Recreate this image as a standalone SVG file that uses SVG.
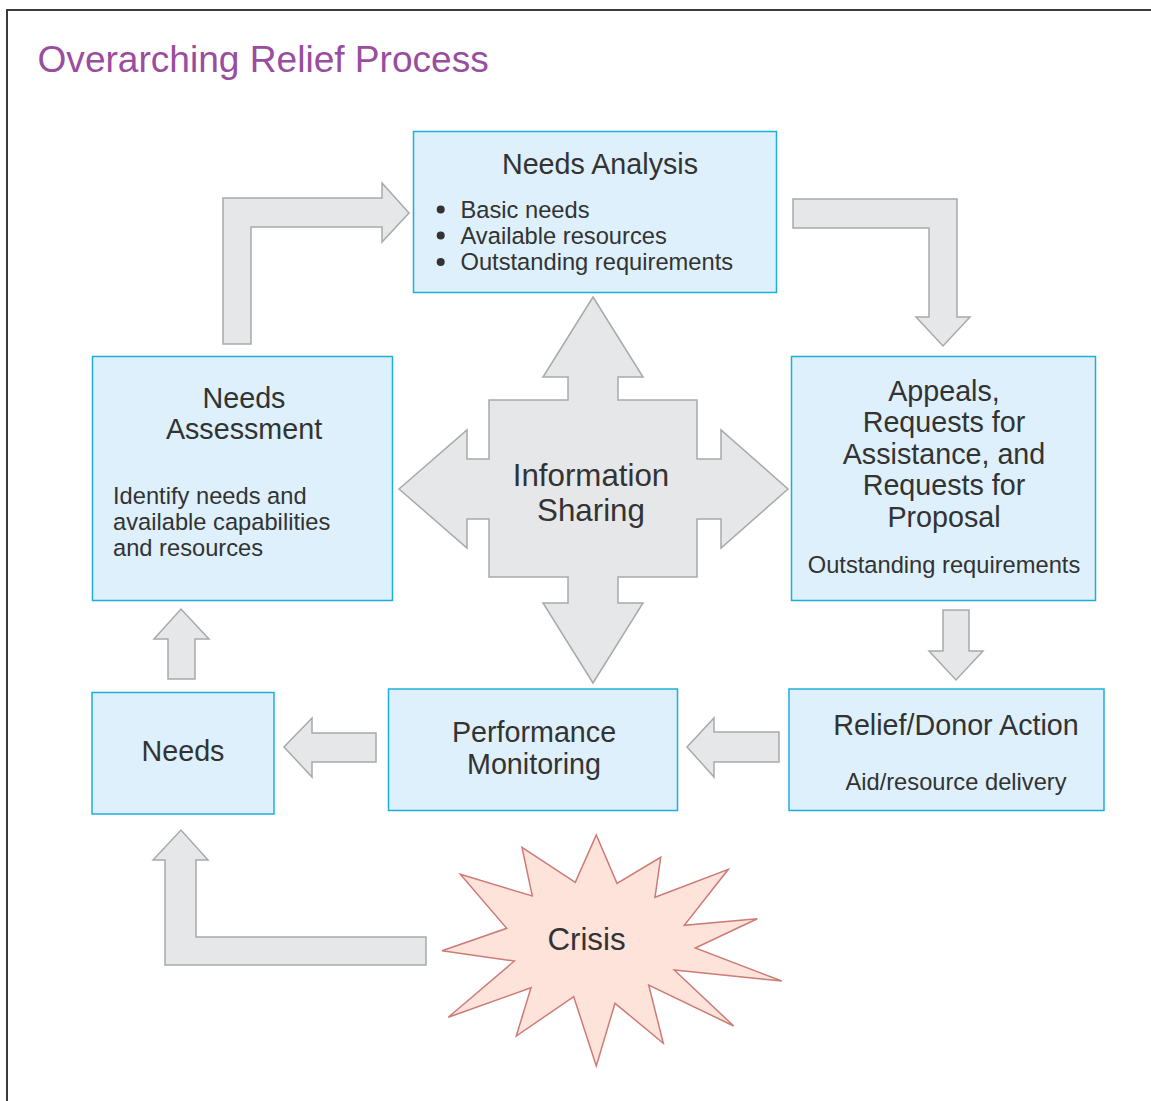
<svg xmlns="http://www.w3.org/2000/svg" width="1151" height="1101" viewBox="0 0 1151 1101">
<style>
  .box { fill: #ddf0fb; stroke: #1eaede; stroke-width: 1.5; }
  .arr { fill: #e6e7e9; stroke: #a7a9ac; stroke-width: 1.5; stroke-linejoin: miter; }
  .t { font-family: "Liberation Sans", Arial, sans-serif; fill: #333333; }
  .h { font-size: 28.7px; text-anchor: middle; }
  .b { font-size: 23.7px; }
  .bc { font-size: 23.7px; text-anchor: middle; }
  .big { font-size: 31.3px; text-anchor: middle; }
</style>
<rect x="0" y="0" width="1151" height="1101" fill="#ffffff"/>
<path d="M7,1101 L7,10 L1151,10" fill="none" stroke="#3a3a3a" stroke-width="2"/>
<text x="37.5" y="72" font-family="&quot;Liberation Sans&quot;, Arial, sans-serif" font-size="37.1px" fill="#9a4d9e">Overarching Relief Process</text>

<g id="connectors">
  <path class="arr" d="M223,344 L223,198 L382,198 L382,183 L409,213 L382,242 L382,227 L251,227 L251,344 Z"/>
  <path class="arr" d="M793,199 L957,199 L957,317 L970,317 L943,346 L916,317 L929,317 L929,228 L793,228 Z"/>
  <path class="arr" d="M943,610 L969,610 L969,651 L983,651 L956,680 L929,651 L943,651 Z"/>
  <path class="arr" d="M779,732 L714,732 L714,718 L687,747 L714,777 L714,762 L779,762 Z"/>
  <path class="arr" d="M376,733 L312,733 L312,718 L284,747 L312,777 L312,762 L376,762 Z"/>
  <path class="arr" d="M168,679 L168,639 L154,639 L181,609 L209,639 L195,639 L195,679 Z"/>
  <path class="arr" d="M165,965 L165,860 L153,860 L181,830 L208,860 L196,860 L196,937 L426,937 L426,965 Z"/>
</g>

<g id="needs-analysis">
  <rect class="box" x="413.5" y="131.5" width="363" height="161"/>
  <text class="t h" x="600" y="174">Needs Analysis</text>
  <circle cx="440.7" cy="209.5" r="4" fill="#333333"/>
  <circle cx="440.7" cy="235.5" r="4" fill="#333333"/>
  <circle cx="440.7" cy="262" r="4" fill="#333333"/>
  <text class="t b" x="460.5" y="217.5">Basic needs</text>
  <text class="t b" x="460.5" y="243.5">Available resources</text>
  <text class="t b" x="460.5" y="270">Outstanding requirements</text>
</g>

<g id="needs-assessment">
  <rect class="box" x="92.5" y="356.5" width="300" height="244"/>
  <text class="t h" x="244" y="408">Needs</text>
  <text class="t h" x="244" y="439">Assessment</text>
  <text class="t b" x="113" y="504">Identify needs and</text>
  <text class="t b" x="113" y="530">available capabilities</text>
  <text class="t b" x="113" y="556">and resources</text>
</g>

<g id="appeals">
  <rect class="box" x="791.5" y="356.5" width="304" height="244"/>
  <text class="t h" x="944" y="400.5">Appeals,</text>
  <text class="t h" x="944" y="432">Requests for</text>
  <text class="t h" x="944" y="463.5">Assistance, and</text>
  <text class="t h" x="944" y="495">Requests for</text>
  <text class="t h" x="944" y="526.5">Proposal</text>
  <text class="t bc" x="944" y="572.5">Outstanding requirements</text>
</g>

<g id="information-sharing">
  <path class="arr" d="M593,297 L643,377 L618,377 L618,400 L697,400 L697,459 L721,459 L721,430 L788,489 L721,548 L721,519 L697,519 L697,577 L618,577 L618,603 L643,603 L593,683 L543,603 L568,603 L568,577 L489,577 L489,519 L467,519 L467,548 L399,489 L467,430 L467,459 L489,459 L489,400 L568,400 L568,377 L543,377 Z"/>
  <text class="t big" x="591" y="485.5">Information</text>
  <text class="t big" x="591" y="520.5">Sharing</text>
</g>

<g id="needs">
  <rect class="box" x="92" y="692.5" width="182" height="121.5"/>
  <text class="t h" x="183" y="761">Needs</text>
</g>

<g id="performance-monitoring">
  <rect class="box" x="388.5" y="689" width="289" height="121.5"/>
  <text class="t h" x="534" y="742">Performance</text>
  <text class="t h" x="534" y="773.5">Monitoring</text>
</g>

<g id="relief-donor-action">
  <rect class="box" x="789" y="689" width="315" height="121.5"/>
  <text class="t h" x="956" y="735">Relief/Donor Action</text>
  <text class="t bc" x="956" y="790">Aid/resource delivery</text>
</g>

<g id="crisis">
  <polygon points="596.3,835 617,883.3 660.7,857.3 655,897.3 728.3,869.3 684.3,925.3 757.3,918.7 695.3,948 781.7,981 674.3,970 733.7,1026 648.7,985 663.3,1043.3 615,1003.3 596.3,1066 573.7,996.7 516.3,1036 531,987.7 448.3,1017.3 514.3,961 442,950.7 506.7,928.3 460.3,874.3 532.3,896 522,847.3 575.3,882.3" fill="#fde3da" stroke="#cd7b76" stroke-width="1.5" stroke-linejoin="miter"/>
  <text class="t big" x="586.5" y="950">Crisis</text>
</g>
</svg>
